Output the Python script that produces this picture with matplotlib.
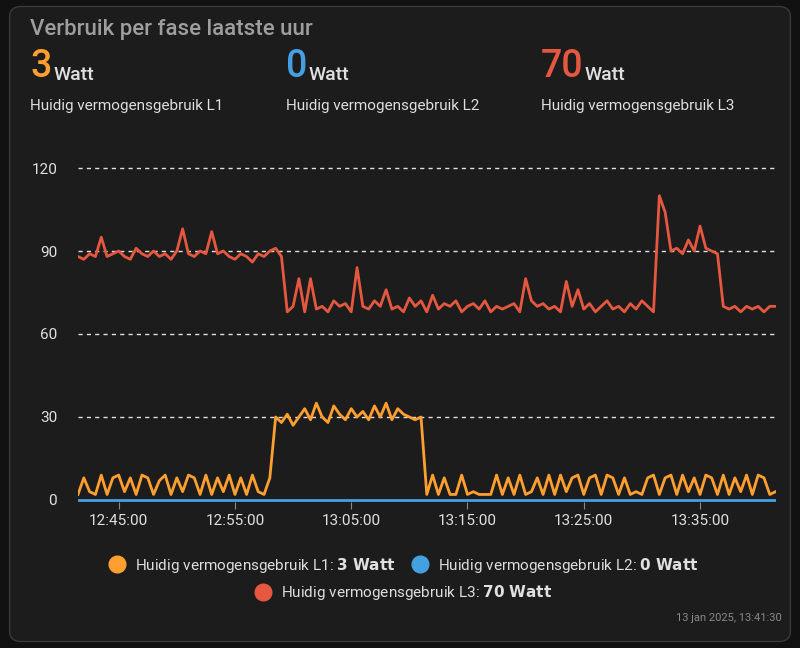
import numpy as np
import matplotlib.pyplot as plt
import matplotlib.dates as mdates
from matplotlib.patches import FancyBboxPatch
from matplotlib.lines import Line2D

plt.rcParams["font.family"] = "Roboto"

# samples every 30 s starting 12:41:30
l3 = [88, 87, 89, 88, 95, 88, 89, 90, 88, 87, 91, 89, 88, 90, 88, 89, 87, 90, 98, 89, 88, 90, 89, 97,
      89, 90, 88, 87, 89, 88, 86, 89, 88, 90, 91, 88,
      68, 70, 80, 68, 80, 69, 70, 68, 72, 70, 71, 68, 84, 70, 69, 72, 70, 76, 69, 70, 68, 73, 70, 72,
      68, 74, 69, 71, 70, 72, 68, 70, 71, 69, 72, 68, 70, 69, 70, 71, 68, 80, 72, 70, 71, 69, 70, 68,
      79, 70, 76, 69, 71, 68, 70, 72, 69, 70, 68, 71, 69, 72, 70, 68,
      110, 104, 90, 91, 89, 94, 90, 99, 91, 90, 89, 70, 69, 70, 68, 70, 69, 70, 68, 70, 70]
l1 = [2, 8, 3, 2, 9, 2, 8, 9, 3, 8, 2, 9, 8, 2, 7, 9, 2, 8, 3, 9, 8, 2, 9, 2, 8, 3, 9, 2, 8, 2, 9, 3, 2, 8,
      30, 28, 31, 27, 30, 33, 29, 35, 30, 28, 34, 31, 29, 33, 30, 32, 29, 34, 30, 35, 29, 33, 31, 30, 29, 30,
      2, 9, 2, 8, 2, 2, 9, 2, 3, 2, 2, 2, 9, 2, 8, 2, 9, 2, 3, 8, 2, 9, 2, 9, 3, 8, 9, 2, 8, 9, 2, 9, 8,
      2, 8, 2, 3, 2, 8, 9, 2, 8, 9, 2, 9, 3, 8, 2, 9, 8, 2, 9, 2, 8, 3, 9, 2, 9, 8, 2, 3]
l2 = [0] * 121
current = ["3", "0", "70"]
names = ["Huidig vermogensgebruik L1", "Huidig vermogensgebruik L2", "Huidig vermogensgebruik L3"]
colors = ["#ff9f30", "#45a0e3", "#e5583f"]

def times(n):
    start = np.datetime64("2025-01-13T12:41:30")
    return start + np.arange(n) * np.timedelta64(30, "s")

bg = "#1c1c1c"
fig = plt.figure(figsize=(8, 6.48), dpi=100)
fig.patch.set_facecolor("#111111")
card = FancyBboxPatch((0.012, 0.01), 0.976, 0.98, boxstyle="round,pad=0,rounding_size=0.015",
                      transform=fig.transFigure, facecolor=bg, edgecolor="#3a3a3a", lw=1, zorder=-5)
fig.patches.append(card)

fig.text(0.038, 0.955, "Verbruik per fase laatste uur", color="#9e9e9e", fontsize=16, va="center",
         fontweight="medium")
renderer = fig.canvas.get_renderer()
for k, x in enumerate([0.038, 0.357, 0.676]):
    t = fig.text(x, 0.897, current[k], color=colors[k], fontsize=27, va="center", fontweight="medium")
    w = t.get_window_extent(renderer).width / 800
    fig.text(x + w + 0.002, 0.885, "Watt", color="#e0e0e0", fontsize=14, va="center", fontweight="medium")
    fig.text(x, 0.837, names[k], color="#e0e0e0", fontsize=11, va="center")

ax = fig.add_axes([0.0975, 0.225, 0.872, 0.52])
ax.set_facecolor(bg)
for s, c, z in [(l3, colors[2], 3), (l1, colors[0], 4), (l2, colors[1], 5)]:
    ax.plot(times(len(s)), s, color=c, lw=2, zorder=z)
ax.set_ylim(-0.8, 121)
ax.set_xlim(times(1)[0], np.datetime64("2025-01-13T13:41:30"))
ax.set_yticks([0, 30, 60, 90, 120])
for y in [30, 60, 90, 120]:
    ax.axhline(y, color="#e0e0e0", lw=1, ls=(0, (3, 3)), zorder=1)
ax.xaxis.set_major_locator(mdates.MinuteLocator(byminute=[5, 15, 25, 35, 45, 55]))
ax.xaxis.set_major_formatter(mdates.DateFormatter("%H:%M:%S"))
ax.tick_params(axis="y", length=0, colors="#e0e0e0", labelsize=11, pad=15)
ax.tick_params(axis="x", length=5, color="#888888", colors="#e0e0e0", labelsize=11)
for sp in ax.spines.values():
    sp.set_visible(False)

def handle(c):
    return Line2D([], [], marker="o", ls="", color=c, markersize=12)

labels = [names[k] + ": $\\bf{" + current[k] + "\\ Watt}$" for k in range(3)]
fig.legend([handle(colors[0]), handle(colors[1])], labels[:2], ncol=2, loc="center",
           bbox_to_anchor=(0.5, 0.128), frameon=False, labelcolor="#e0e0e0", fontsize=11,
           handletextpad=0.2, columnspacing=0.6)
fig.legend([handle(colors[2])], labels[2:], loc="center", bbox_to_anchor=(0.5, 0.085), frameon=False,
           labelcolor="#e0e0e0", fontsize=11, handletextpad=0.2)
fig.text(0.977, 0.047, "13 jan 2025, 13:41:30", color="#8a8a8a", fontsize=8, ha="right", va="center")

fig.savefig("out.png", facecolor=fig.get_facecolor())
